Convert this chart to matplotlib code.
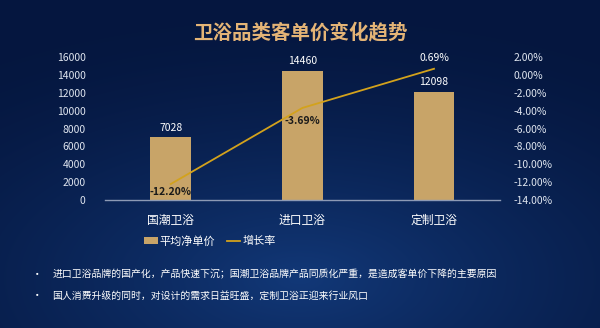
import matplotlib
matplotlib.use('Agg')
import matplotlib.pyplot as plt
import numpy as np
from matplotlib.lines import Line2D
from matplotlib.patches import Patch

plt.rcParams['font.family'] = ['Noto Sans CJK SC', 'DejaVu Sans']

categories = ['国潮卫浴', '进口卫浴', '定制卫浴']
avg_price = [7028, 14460, 12098]
growth = [-12.20, -3.69, 0.69]
price_ticks = [0, 2000, 4000, 6000, 8000, 10000, 12000, 14000, 16000]
growth_ticks = [2, 0, -2, -4, -6, -8, -10, -12, -14]
notes = [
    '进口卫浴品牌的国产化，产品快速下沉；国潮卫浴品牌产品同质化严重，是造成客单价下降的主要原因',
    '国人消费升级的同时，对设计的需求日益旺盛，定制卫浴正迎来行业风口',
]

bar_color = '#c8a468'
line_color = '#d3a21c'
gold = '#e4b476'
tick_color = '#dfe5ef'

fig = plt.figure(figsize=(6, 3.28), dpi=100)

# dark blue backdrop with a soft glow near the lower middle
bg = fig.add_axes([0, 0, 1, 1])
yy, xx = np.mgrid[0:1:328j, 0:1:600j]
r = np.sqrt(((xx - 0.5) / 0.9) ** 2 + ((yy - 0.85) / 0.8) ** 2)
glow = np.clip(1 - r, 0, 1) ** 1.5
c0 = np.array([0.02, 0.09, 0.25])
c1 = np.array([0.07, 0.22, 0.47])
img = c0 + (c1 - c0) * glow[..., None]
bg.imshow(img, extent=[0, 1, 0, 1], aspect='auto', origin='upper')
bg.axis('off')

ax = fig.add_axes([0.175, 0.39, 0.658, 0.436])
ax.patch.set_alpha(0)
x = np.arange(len(categories))
bars = ax.bar(x, avg_price, width=0.31, color=bar_color, zorder=2)
ax.set_xlim(-0.5, 2.5)
ax.set_ylim(0, 16000)
ax.set_yticks(price_ticks)
ax.set_xticks(x)
ax.set_xticklabels(categories, fontsize=8.5, color='white')
ax.tick_params(axis='y', colors=tick_color, labelsize=7.5, length=0, pad=14)
ax.tick_params(axis='x', length=0, pad=10)
for s in ['top', 'right', 'left']:
    ax.spines[s].set_visible(False)
ax.spines['bottom'].set_color('#8d9ab5')
ax.spines['bottom'].set_linewidth(1)
ax.spines['bottom'].set_zorder(3)
for xi, v in zip(x, avg_price):
    ax.text(xi, v + 500, str(v), ha='center', va='bottom', fontsize=7.5, color='white')

ax2 = ax.twinx()
ax2.set_ylim(-14, 2)
ax2.set_yticks(growth_ticks)
ax2.set_yticklabels(['%.2f%%' % t for t in growth_ticks])
ax2.tick_params(axis='y', colors=tick_color, labelsize=7.5, length=0, pad=10)
for s in ax2.spines.values():
    s.set_visible(False)
ax2.plot(x, growth, color=line_color, linewidth=1.3, zorder=4)
offsets = [(-0.3, 'top', '#1a1a1a', 'bold'), (-0.9, 'top', '#1a1a1a', 'bold'),
           (0.6, 'bottom', 'white', 'normal')]
for xi, g, (dy, va, col, fw) in zip(x, growth, offsets):
    ax2.text(xi, g + dy, '%.2f%%' % g, ha='center', va=va, fontsize=7.5,
             color=col, fontweight=fw)

fig.text(0.5, 0.9, '卫浴品类客单价变化趋势', ha='center', va='center',
         fontsize=14, fontweight='bold', color=gold)

handles = [Patch(facecolor=bar_color, edgecolor='none'),
           Line2D([0], [0], color=line_color, linewidth=1.3)]
fig.legend(handles, ['平均净单价', '增长率'], loc='center', bbox_to_anchor=(0.35, 0.265),
           ncol=2, frameon=False, fontsize=8, labelcolor='white',
           handlelength=1.2, handleheight=0.7, handletextpad=0.2, columnspacing=1.0)

for i, note in enumerate(notes):
    yy_ = 0.162 - i * 0.064
    fig.text(0.062, yy_, '•', ha='center', va='center', fontsize=7.5, color='white')
    fig.text(0.087, yy_, note, ha='left', va='center', fontsize=7.1, color='white',
             fontweight='medium')

fig.savefig('out.png', dpi=100)
